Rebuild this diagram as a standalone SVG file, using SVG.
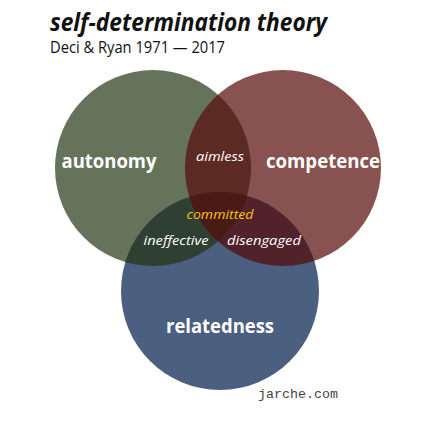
<svg xmlns="http://www.w3.org/2000/svg" width="433" height="448" viewBox="0 0 433 448">
<style>
.t{font-family:"Open Sans","Noto Sans",sans-serif;}
.big{font-family:"Open Sans","Noto Sans",sans-serif;font-weight:bold;font-size:20px;fill:#fff;}
.sm{font-family:"Open Sans","Noto Sans",sans-serif;font-style:italic;font-size:13px;fill:#fff;}
</style>
<defs>
<clipPath id="cg"><circle cx="153" cy="168" r="98"/></clipPath>
<clipPath id="cr"><circle cx="283" cy="168" r="98"/></clipPath>
<clipPath id="cb"><circle cx="220" cy="291" r="99"/></clipPath>
</defs>
<rect width="433" height="448" fill="#fff"/>
<text x="50" y="31" class="t" font-size="25" font-weight="bold" font-style="italic" fill="#111" textLength="277" lengthAdjust="spacingAndGlyphs">self-determination theory</text>
<text x="50" y="53" class="t" font-size="16" fill="#111" textLength="175" lengthAdjust="spacingAndGlyphs">Deci &amp; Ryan 1971 — 2017</text>
<g id="autonomy"><circle cx="153" cy="168" r="98" fill="#647359"/></g>
<g id="competence"><circle cx="283" cy="168" r="98" fill="#87524f"/></g>
<g id="relatedness"><circle cx="220" cy="291" r="99" fill="#4b5f80"/></g>
<g id="overlaps">
<circle cx="283" cy="168" r="98" fill="#5b2a22" clip-path="url(#cg)"/>
<g clip-path="url(#cb)">
<circle cx="153" cy="168" r="98" fill="#2f3f31"/>
<circle cx="283" cy="168" r="98" fill="#52222b"/>
<g clip-path="url(#cg)"><circle cx="283" cy="168" r="98" fill="#4a1a15"/></g>
</g>
</g>
<g id="labels">
<text x="109" y="168" class="big" text-anchor="middle" textLength="95" lengthAdjust="spacingAndGlyphs">autonomy</text>
<text x="323" y="168" class="big" text-anchor="middle" textLength="114" lengthAdjust="spacingAndGlyphs">competence</text>
<text x="220" y="333" class="big" text-anchor="middle" textLength="108" lengthAdjust="spacingAndGlyphs">relatedness</text>
<text x="220" y="161" class="sm" text-anchor="middle" textLength="48" lengthAdjust="spacingAndGlyphs">aimless</text>
<text x="220" y="219" class="sm" text-anchor="middle" style="fill:#f2c61f" textLength="67" lengthAdjust="spacingAndGlyphs">committed</text>
<text x="176" y="245" class="sm" text-anchor="middle" textLength="65" lengthAdjust="spacingAndGlyphs">ineffective</text>
<text x="264" y="245" class="sm" text-anchor="middle" textLength="74" lengthAdjust="spacingAndGlyphs">disengaged</text>
</g>
<text x="258" y="398" font-family="'Liberation Mono','DejaVu Sans Mono',monospace" font-size="13" fill="#444" textLength="80" lengthAdjust="spacingAndGlyphs">jarche.com</text>
</svg>
